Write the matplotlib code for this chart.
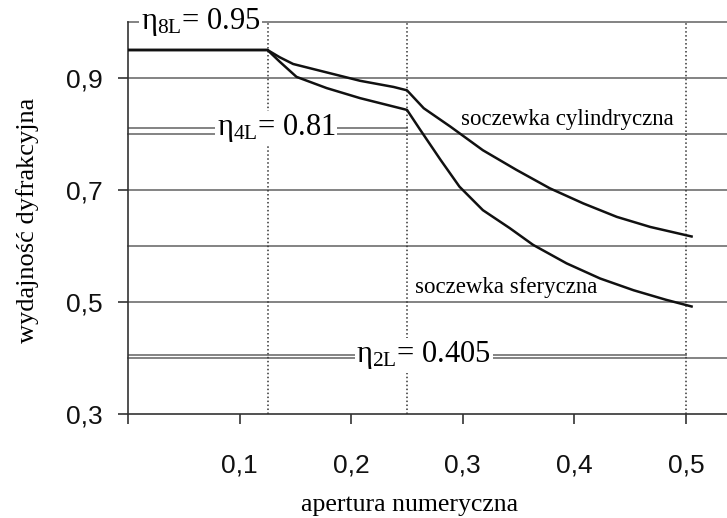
import matplotlib
matplotlib.use("Agg")
import matplotlib.pyplot as plt

plt.rcParams['mathtext.fontset'] = 'custom'
plt.rcParams['mathtext.rm'] = 'Liberation Serif'
plt.rcParams['mathtext.it'] = 'Liberation Serif'

# ---- data ----
cyl_x = [0.0, 0.125, 0.136, 0.148, 0.178, 0.208, 0.238, 0.250, 0.265, 0.289, 0.318, 0.348,
         0.378, 0.408, 0.438, 0.468, 0.505]
cyl_y = [0.95, 0.95, 0.937, 0.925, 0.910, 0.895, 0.884, 0.878, 0.846, 0.813, 0.771, 0.736,
         0.703, 0.676, 0.652, 0.634, 0.617]

sph_x = [0.0, 0.125, 0.136, 0.151, 0.178, 0.208, 0.238, 0.250, 0.262, 0.280, 0.297, 0.318,
         0.342, 0.363, 0.393, 0.423, 0.453, 0.482, 0.505]
sph_y = [0.95, 0.95, 0.929, 0.902, 0.882, 0.864, 0.849, 0.843, 0.807, 0.754, 0.706, 0.664,
         0.632, 0.602, 0.569, 0.542, 0.521, 0.504, 0.492]

grid_y = [0.4, 0.5, 0.6, 0.7, 0.8, 0.9, 1.0]
vlines_x = [0.125, 0.25, 0.5]

eta_names = ['8L', '4L', '2L']
eta_values = [0.95, 0.81, 0.405]
eta_labels = ['0.95', '0.81', '0.405']
eta_xend = [0.125, 0.25, 0.5]
eta_label_x = [0.065, 0.133, 0.265]

yticks = [0.3, 0.5, 0.7, 0.9]
ytick_labels = ['0,3', '0,5', '0,7', '0,9']
xticks = [0.0, 0.1, 0.2, 0.3, 0.4, 0.5]
xtick_labels = ['', '0,1', '0,2', '0,3', '0,4', '0,5']

W, H = 727, 518
fig = plt.figure(figsize=(W / 100, H / 100), dpi=100)
x0px, y0px, ytop_px = 128, 414, 22
ax = fig.add_axes([x0px / W, 1 - y0px / H, 1 - x0px / W, (y0px - ytop_px) / H])
ax.set_xlim(0, (W - x0px) / 1116)
ax.set_ylim(0.3, 1.0)

for s in ['top', 'right']:
    ax.spines[s].set_visible(False)
for s in ['left', 'bottom']:
    ax.spines[s].set_linewidth(1.2)
    ax.spines[s].set_color('#333333')

gray = '#7a7a7a'
for g in grid_y:
    ax.axhline(g, color=gray, lw=1.3, zorder=1, clip_on=False)

for vx in vlines_x:
    ax.plot([vx, vx], [0.3, 1.0], color='#333333', lw=1.1, ls=(0, (1, 1.6)), zorder=2, clip_on=False)

for val, xe in zip(eta_values, eta_xend):
    ax.plot([0, xe], [val, val], color=gray, lw=1.3, zorder=1)

ax.plot(cyl_x, cyl_y, color='#111111', lw=1.8, zorder=3, solid_joinstyle='round')
ax.plot(sph_x, sph_y, color='#111111', lw=1.8, zorder=3, solid_joinstyle='round')

serif = 'Liberation Serif'
for name, val, lab, lx in zip(eta_names, eta_values, eta_labels, eta_label_x):
    y_txt = 1.0 if name == '8L' else val
    ax.text(lx, y_txt, r'$\mathrm{η}_{\mathrm{' + name + '}}$= ' + lab, family=serif, fontsize=22,
            ha='center', va='center', zorder=5, clip_on=False,
            bbox=dict(facecolor='white', edgecolor='none', pad=1.0))

ax.text(0.298, 0.808, 'soczewka cylindryczna', family=serif, fontsize=16.5, ha='left', va='bottom', zorder=4)
ax.text(0.257, 0.508, 'soczewka sferyczna', family=serif, fontsize=16.5, ha='left', va='bottom', zorder=4)

ax.set_yticks(yticks)
ax.set_yticklabels(ytick_labels, family='Liberation Sans', fontsize=19, color='#111111')
ax.set_xticks(xticks)
ax.set_xticklabels(xtick_labels, family='Liberation Sans', fontsize=19, color='#111111')
ax.tick_params(axis='both', direction='out', length=7.2, width=1.2, color='#333333')
ax.tick_params(axis='y', pad=11)
ax.tick_params(axis='x', pad=21)

fig.text(410 / W, 1 - 505 / H, 'apertura numeryczna', family=serif, fontsize=18.5, ha='center', va='center')
fig.text(28 / W, 1 - 220 / H, 'wydajność dyfrakcyjna', family=serif, fontsize=19, ha='center', va='center', rotation=90)

fig.savefig('out.png', dpi=100)
